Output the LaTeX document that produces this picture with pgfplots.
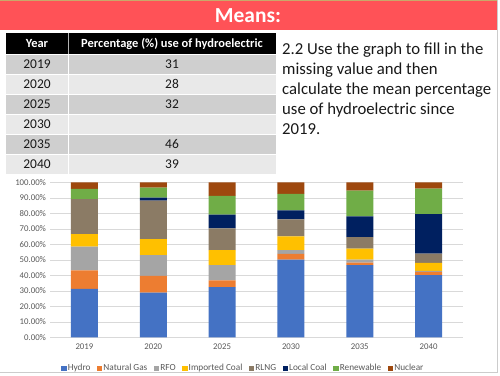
\documentclass[border=0pt]{standalone}
\usepackage{fontspec}
\setmainfont{Carlito}
\usepackage{pgfplots}
\pgfplotsset{compat=1.18}
\definecolor{bannerred}{HTML}{FF5257}
\definecolor{goldline}{HTML}{C9A86A}
\definecolor{rowdark}{HTML}{CFCFCF}
\definecolor{rowlight}{HTML}{E9E9E9}
\definecolor{tickgray}{HTML}{595959}
\definecolor{hydro}{HTML}{4472C4}
\definecolor{natgas}{HTML}{ED7D31}
\definecolor{rfo}{HTML}{A5A5A5}
\definecolor{impcoal}{HTML}{FFC000}
\definecolor{rlng}{HTML}{8B7B65}
\definecolor{localcoal}{HTML}{002060}
\definecolor{renew}{HTML}{70AD47}
\definecolor{nuclear}{HTML}{9E480E}
\begin{document}
\begin{tikzpicture}
\begin{scope}[x=1bp,y=-1bp]
\useasboundingbox (0,0) rectangle (500,375);
\fill[white] (0,0) rectangle (500,375);
\draw[gray!40, line width=0.8bp] (497,0) -- (497,372.5) -- (0,372.5);
\fill[bannerred] (0,1) rectangle (497,29.5);
\draw[goldline, line width=1bp] (0,0.5) -- (497,0.5);
\node[text=white, font=\bfseries\fontsize{21.5}{24}\selectfont, inner sep=0] at (248,15.5) {Means:};
% table
\fill[black] (6,33) rectangle (276,53.5);
\draw[gray!60, line width=0.8bp] (68,33) -- (68,53.5);
\node[text=white, font=\bfseries\fontsize{12.5}{14}\selectfont, inner sep=0, anchor=base] at (37,47.5) {Year};
\node[text=white, font=\bfseries\fontsize{12.5}{14}\selectfont, inner sep=0, anchor=base] at (172,47.5) {Percentage (\%) use of hydroelectric};
\foreach \i/\yr/\val/\col in {0/2019/31/rowdark,1/2020/28/rowlight,2/2025/32/rowdark,3/2030/{}/rowlight,4/2035/46/rowdark,5/2040/39/rowlight}{
  \fill[\col] (6,{54.5+20*\i}) rectangle (67.5,{73.5+20*\i});
  \fill[\col] (68.5,{54.5+20*\i}) rectangle (276,{73.5+20*\i});
  \node[text=black!90, font=\fontsize{13.5}{15}\selectfont, inner sep=0, anchor=base] at (37,{68.8+20*\i}) {\yr};
  \node[text=black!90, font=\fontsize{13.5}{15}\selectfont, inner sep=0, anchor=base] at (172,{68.8+20*\i}) {\val};
}
% question text
\foreach \j/\txt in {0/{2.2 Use the graph to fill in the},1/{missing value and then},2/{calculate the mean percentage},3/{use of hydroelectric since},4/{2019.}}{
  \node[text=black!90, font=\fontsize{16.8}{18}\selectfont, inner sep=0, anchor=base west] at (282,{54+20*\j}) {\txt};
}
\end{scope}
\begin{axis}[
  at={(50bp,-337.3bp)}, anchor=south west,
  scale only axis, width=413bp, height=155bp,
  ybar stacked, bar width=27bp,
  xmin=-0.5, xmax=5.5, ymin=0, ymax=100,
  xtick={0,...,5}, xticklabels={2019,2020,2025,2030,2035,2040},
  ytick={0,10,...,100},
  yticklabel={\pgfmathprintnumber[fixed,fixed zerofill,precision=2]{\tick}\%},
  /pgf/number format/assume math mode=true,
  ymajorgrids, grid style={draw=gray!30, line width=0.6bp},
  axis line style={draw=none},
  major tick length=0pt,
  tick label style={font=\fontsize{8.8}{10}\selectfont, text=tickgray},
  xticklabel style={yshift=-2.5bp},
  yticklabel style={xshift=-0.5bp},
  legend style={draw=none, fill=none, at={(0.467,-0.2)}, anchor=center,
    font=\fontsize{9.3}{10}\selectfont, text=tickgray,
    /tikz/every even column/.append style={column sep=5.5bp},
    nodes={inner sep=1bp}},
  legend columns=-1,
  legend image code/.code={\fill[#1] (0bp,-2.8bp) rectangle (5.5bp,2.8bp);},
  every axis plot/.append style={draw=none},
]
\addplot[fill=hydro] coordinates {(0,31.2) (1,28.8) (2,32.3) (3,50.1) (4,46.5) (5,40.2)};
\addplot[fill=natgas] coordinates {(0,12.0) (1,10.8) (2,4.5) (3,3.7) (4,1.7) (5,2.0)};
\addplot[fill=rfo] coordinates {(0,15.3) (1,13.5) (2,9.7) (3,2.5) (4,1.9) (5,0.6)};
\addplot[fill=impcoal] coordinates {(0,8.0) (1,10.3) (2,9.8) (3,8.9) (4,7.1) (5,5.2)};
\addplot[fill=rlng] coordinates {(0,22.7) (1,24.8) (2,14.0) (3,10.9) (4,7.5) (5,6.0)};
\addplot[fill=localcoal] coordinates {(0,0) (1,1.9) (2,8.8) (3,5.8) (4,13.4) (5,25.4)};
\addplot[fill=renew] coordinates {(0,6.5) (1,6.5) (2,12.1) (3,10.6) (4,16.5) (5,16.5)};
\addplot[fill=nuclear] coordinates {(0,4.3) (1,3.4) (2,8.8) (3,7.5) (4,5.4) (5,4.1)};
\legend{Hydro,Natural Gas,RFO,Imported Coal,RLNG,Local Coal,Renewable,Nuclear}
\end{axis}
\end{tikzpicture}
\end{document}
